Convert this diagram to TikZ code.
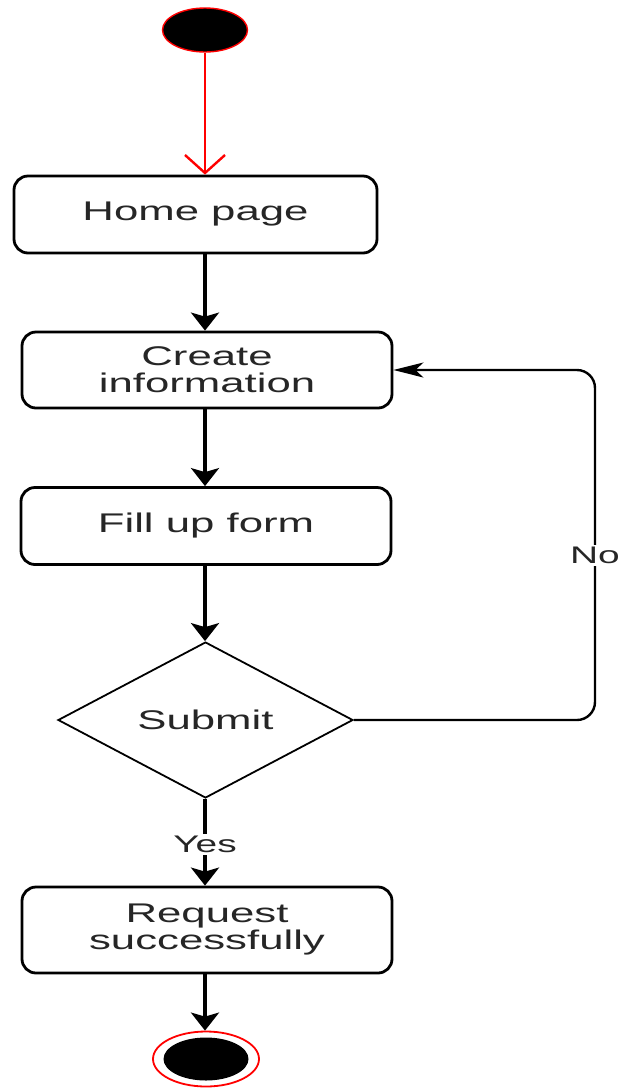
\documentclass[tikz,border=0pt]{standalone}
\usepackage{fontspec}
\setmainfont{Liberation Sans}[FakeStretch=1.62]
\usetikzlibrary{shapes.geometric,arrows.meta}
\definecolor{ink}{HTML}{262626}
\tikzset{
  x=1pt, y=-1pt,
  every node/.style={font=\fontsize{27}{27}\selectfont, text=ink, align=center},
  stepbox/.style={draw=black, line width=2.8pt, rounded corners=14pt, fill=white,
    minimum width=370pt, minimum height=77pt, inner sep=0pt},
  choice/.style={diamond, draw=black, line width=1.8pt, minimum width=295pt,
    minimum height=154pt, inner sep=0pt},
  flow/.style={draw=black, line width=3.2pt,
    -{Stealth[length=18pt,width=28pt,inset=4pt]}},
  flowh/.style={draw=black, line width=2.4pt,
    -{Stealth[length=30pt,width=15pt,inset=8pt]}},
  guard/.style={fill=white, inner sep=2pt, font=\fontsize{24}{24}\selectfont},
}
\begin{document}
\begin{tikzpicture}
  \useasboundingbox (0,0) rectangle (620,1088);

  % initial and final states
  \node[ellipse, fill=black, draw=red, line width=1.4pt, minimum width=85pt,
        minimum height=44pt, inner sep=0pt] (start) at (205,30) {};
  \node[ellipse, draw=red, line width=1.8pt, minimum width=106pt,
        minimum height=55pt, inner sep=0pt] (stop) at (206,1059) {};
  \node[ellipse, fill=black, minimum width=85pt, minimum height=43pt,
        inner sep=0pt] (stopcore) at (206,1059) {};

  % activities
  \node[stepbox, minimum width=363pt] (home) at (195.5,214.5) {Home page};
  \node[stepbox, minimum height=76pt] (create) at (207,370) {Create\\information};
  \node[stepbox] (fill) at (206,526) {Fill up form};
  \node[choice] (submit) at (205.5,720) {Submit};
  \node[stepbox, minimum height=86pt] (done) at (207,930) {Request\\successfully};

  % loop-back corners
  \coordinate (loopB) at (595,720);
  \coordinate (loopT) at (595,370);

  % transitions
  \draw[red, line width=2.4pt, -{Straight Barb[length=18pt,width=40pt]}]
    (start.south) -- (start |- home.north);
  \draw[flow] (home.south -| start) -- (create.north -| start);
  \draw[flow] (create.south -| start) -- (fill.north -| start);
  \draw[flow] (fill.south -| start) -- (submit.north -| start);
  \draw[flow] (submit.south -| start) -- node[guard, pos=0.53] {Yes} (done.north -| start);
  \draw[flow] (done.south -| start) -- (stop.north -| start);
  \draw[flowh, rounded corners=18pt] (submit.east) -- (loopB)
    -- node[guard, pos=0.47] {No} (loopT) -- (create.east |- loopT);
\end{tikzpicture}
\end{document}
